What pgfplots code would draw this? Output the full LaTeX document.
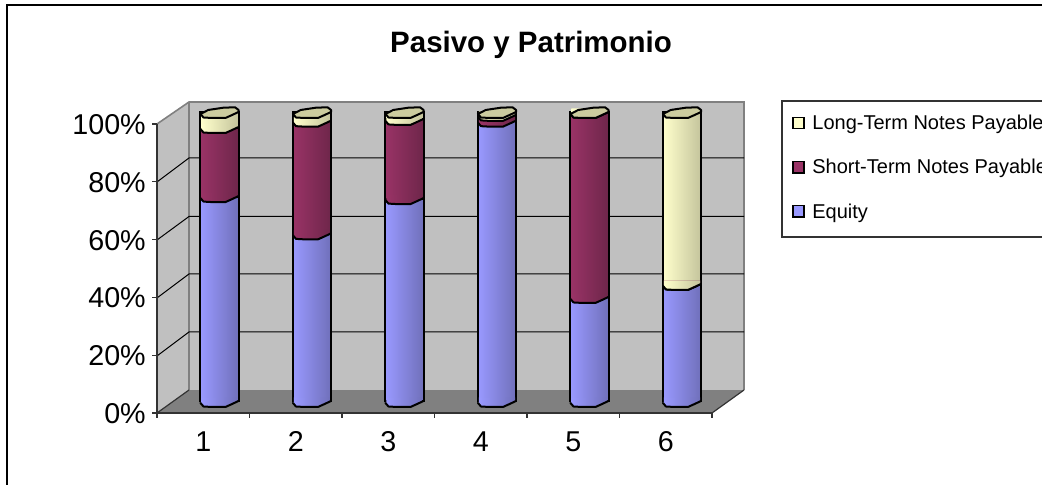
\documentclass[border=0pt]{standalone}
\usepackage{fontspec}
\setmainfont{Liberation Sans}
\usepackage{pgfplots}
\usepackage{pgfplotstable}
\pgfplotsset{compat=1.18}
\definecolor{eqA}{HTML}{9999FF}\definecolor{eqB}{HTML}{8787DC}\definecolor{eqC}{HTML}{7070BA}
\definecolor{stA}{HTML}{993366}\definecolor{stB}{HTML}{852F5B}\definecolor{stC}{HTML}{6E264A}
\definecolor{ltA}{HTML}{FFFFCC}\definecolor{ltB}{HTML}{E8E8B8}\definecolor{ltC}{HTML}{C4C49C}
\definecolor{capc}{HTML}{CCCC9F}
\definecolor{wall}{HTML}{C0C0C0}\definecolor{floorc}{HTML}{808080}
\pgfplotstableread{
x eq st lt
1 70.9 23.9 5.2
2 58.0 39.0 3.0
3 70.2 27.4 2.4
4 97.0 2.0 1.0
5 36.0 64.0 0.0
6 40.5 0.0 59.5
}\shares
% px -> pt
\newcommand{\PX}[2]{({#1*0.75pt},{(485-#2)*0.75pt})}
\newcommand{\defarc}[4]{%
\pgfdeclareplotmark{#1}{%
 \path[draw=none,left color=#2,middle color=#3,right color=#4]
  (-13.6pt,3pt)--(13.6pt,3pt)--(13.6pt,0.4pt)--(9.4pt,-1.9pt)--(4.5pt,-4.1pt)--(-6pt,-4.1pt)--(-12pt,-3.75pt)--(-13.6pt,-1.1pt)--cycle;
 \draw[black,line width=1.5pt,line join=round,line cap=round]
  (-14.3pt,-1.1pt)--(-12pt,-3.75pt)--(-6pt,-4.1pt)--(4.5pt,-4.1pt)--(9.4pt,-1.9pt)--(14.3pt,0.4pt);
}}
\defarc{arcEq}{eqA}{eqB}{eqC}
\defarc{arcSt}{stA}{stB}{stC}
\defarc{arcLt}{ltA}{ltB}{ltC}
\pgfdeclareplotmark{barcap}{%
 \draw[black,fill=capc,line width=1.5pt,line join=round]
  (-14.3pt,-1.1pt)--(-8.4pt,1.9pt)--(2.9pt,3.6pt)--(11.6pt,3.9pt)--(14.3pt,1.9pt)--(14.3pt,0.4pt)--(9.4pt,-1.9pt)--(4.5pt,-4.1pt)--(-6pt,-4.1pt)--(-12pt,-3.75pt)--cycle;
}
\begin{document}
\begin{tikzpicture}[x=1pt,y=1pt]
% frame
\draw[black,line width=1.5pt] \PX{7}{490}--\PX{7}{5.5}--\PX{1050}{5.5};
% walls
\fill[wall] \PX{157}{124}--\PX{189}{102}--\PX{189}{390}--\PX{157}{413}--cycle;
\fill[floorc] \PX{157}{413}--\PX{189}{390}--\PX{744}{390}--\PX{712}{413}--cycle;
\fill[wall] \PX{189}{102} rectangle \PX{744}{390};
\draw[floorc,line width=1.2pt] \PX{157}{124}--\PX{189}{102}--\PX{744}{102}--\PX{744}{390};
\draw[floorc,line width=1.2pt] \PX{189}{102}--\PX{189}{390};
\foreach \a/\b in {182/158,240/216.5,298/274,356/332}{
 \draw[black,line width=0.75pt] \PX{157}{\a}--\PX{189}{\b}--\PX{744}{\b};
}
\draw[black!80,line width=0.9pt] \PX{157}{413}--\PX{189}{390};
\draw[black!80,line width=0.9pt] \PX{712}{413}--\PX{744}{390};
% legend frame
\draw[black!80,line width=0.9pt] \PX{1060}{101}--\PX{782}{101}--\PX{782}{237}--\PX{1060}{237};
% main axis: ticks, labels, title, legend
\begin{axis}[
 at={(117.75pt,54pt)},anchor=south west,
 scale only axis,width=416.25pt,height=216.75pt,
 xmin=0.5,xmax=6.5,ymin=0,ymax=100,clip=false,
 axis y line*=left,axis x line*=bottom,
 axis line style={black!80,line width=0.9pt,-},
 ytick={0,20,40,60,80,100},
 yticklabels={0\%,20\%,40\%,60\%,80\%,100\%},
 xtick={1,2,3,4,5,6},xticklabels={1,2,3,4,5,6},
 minor xtick={0.5,1.5,2.5,3.5,4.5,5.5,6.5},
 major tick length=3.75pt,minor tick length=3.75pt,
 tick align=outside,
 tick style={black!80,line width=0.9pt},
 major x tick style={draw=none},
 tick label style={font=\fontsize{21.5}{21.5}\selectfont,inner sep=0pt},
 yticklabel style={xshift=-4.5pt,yshift=-0.5pt},
 xticklabel style={anchor=base,yshift=-25pt},
 title={Pasivo y Patrimonio},
 every axis title shift=0pt,
 title style={at={(0.674,1.249)},anchor=base,font=\fontsize{22.1}{22.1}\bfseries\selectfont,inner sep=0pt},
 legend style={at={(1.126,1.0796)},anchor=north west,draw=none,fill=none,
   font=\fontsize{15}{15}\selectfont,inner xsep=7.5pt,inner ysep=8.5pt,
   row sep=16.75pt,/tikz/every odd column/.append style={column sep=3.75pt}},
 legend cell align=left,
]
\addlegendimage{legend image code/.code={\draw[black,line width=1pt,fill=ltA] (0pt,-3.9pt) rectangle (8.4pt,4.5pt);}}
\addlegendentry{Long-Term Notes Payable}
\addlegendimage{legend image code/.code={\draw[black,line width=1pt,fill=stA] (0pt,-3.9pt) rectangle (8.4pt,4.5pt);}}
\addlegendentry{Short-Term Notes Payable}
\addlegendimage{legend image code/.code={\draw[black,line width=1pt,fill=eqA] (0pt,-3.9pt) rectangle (8.4pt,4.5pt);}}
\addlegendentry{Equity}
\end{axis}
% bars: axis set in the middle of the 3-D depth
\begin{axis}[
 at={(129.94pt,62.625pt)},anchor=south west,
 scale only axis,width=416.25pt,height=216.75pt,
 xmin=0.5,xmax=6.5,ymin=0,ymax=100,clip=false,hide axis,
 unbounded coords=discard,
]
\pgfplotsset{barbase/.style={ybar,bar width=28.6pt,bar shift=0pt,draw=black,line width=1.5pt,mark=none}}
\pgfplotsinvokeforeach{1,...,6}{
\addplot[barbase,restrict x to domain=#1:#1,left color=ltA,middle color=ltB,right color=ltC] table[x=x,y expr=\thisrow{eq}+\thisrow{st}+\thisrow{lt}] {\shares};
\addplot[barbase,restrict x to domain=#1:#1,left color=stA,middle color=stB,right color=stC] table[x=x,y expr=\thisrow{eq}+\thisrow{st}] {\shares};
\addplot[barbase,restrict x to domain=#1:#1,left color=eqA,middle color=eqB,right color=eqC] table[x=x,y=eq] {\shares};
}
\addplot[only marks,mark=arcEq] table[x=x,y expr=0*\thisrow{eq}] {\shares};
\addplot[only marks,mark=arcSt] table[x=x,y=eq] {\shares};
\addplot[only marks,mark=arcLt] table[x=x,y expr=\thisrow{eq}+\thisrow{st}] {\shares};
\addplot[only marks,mark=barcap] table[x=x,y expr=\thisrow{eq}+\thisrow{st}+\thisrow{lt}] {\shares};
\end{axis}
\pgfresetboundingbox
\useasboundingbox (0,0) rectangle (781.5pt,363.75pt);
\end{tikzpicture}
\end{document}
